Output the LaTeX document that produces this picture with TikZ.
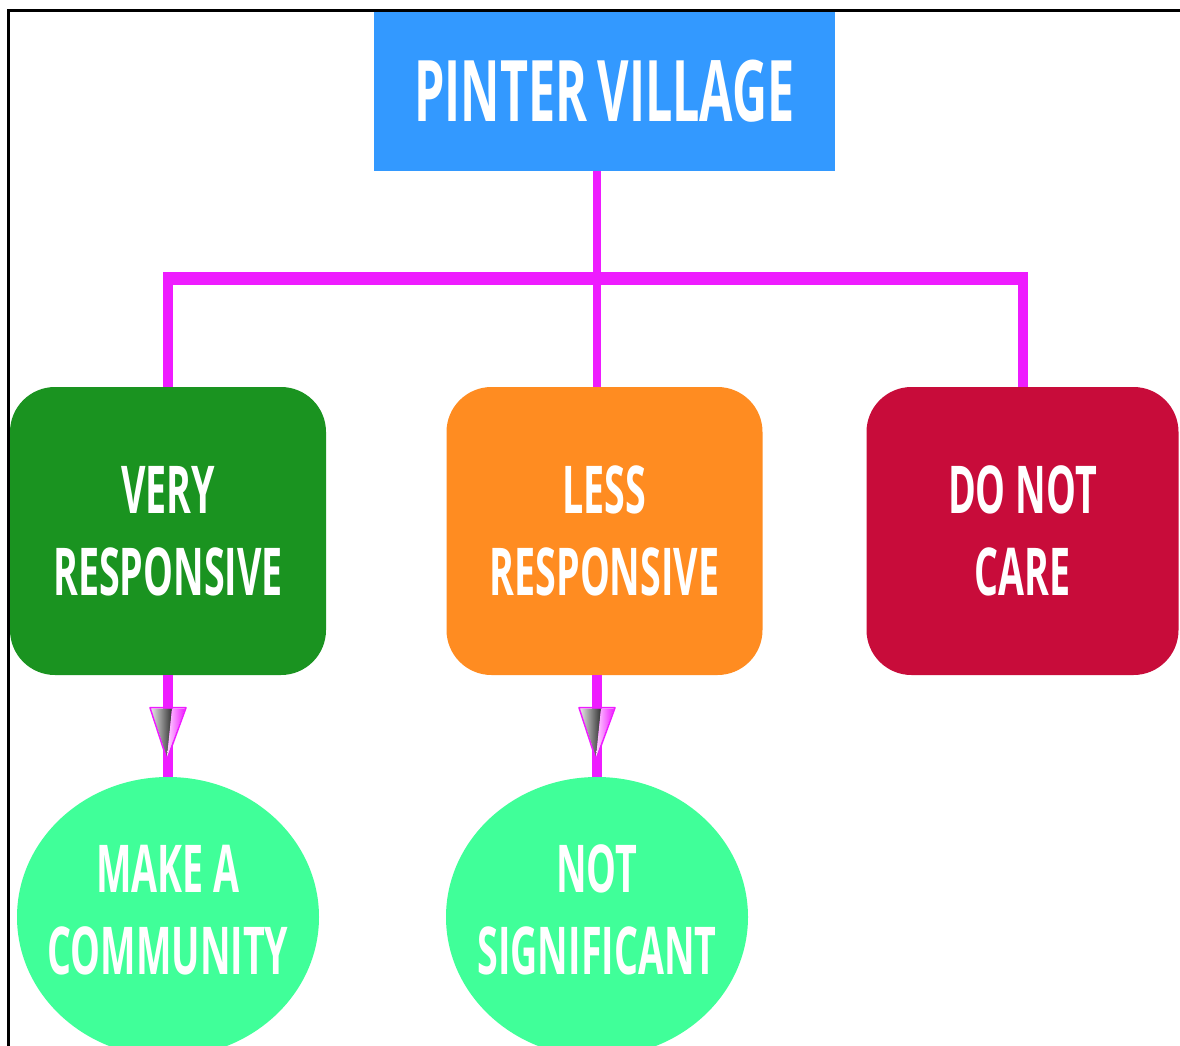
\documentclass[tikz,border=0pt]{standalone}
\usepackage{fontspec}
\newfontfamily\cfont[FakeStretch=0.57]{Open Sans}
\usetikzlibrary{shapes.geometric}
\definecolor{cblue}{HTML}{3399FF}
\definecolor{cmag}{HTML}{EE1CFF}
\definecolor{cgreen}{HTML}{1A9320}
\definecolor{corange}{HTML}{FF8C21}
\definecolor{cred}{HTML}{C80C3A}
\definecolor{cmint}{HTML}{40FF99}
\tikzset{
  txt/.style={text=white, font=\cfont\bfseries\fontsize{66}{82}\selectfont, align=center},
  titlebox/.style={rectangle, fill=cblue, minimum width=461, minimum height=159, inner sep=0,
    text=white, font=\cfont\bfseries\fontsize{85}{100}\selectfont},
  catbox/.style={rectangle, rounded corners=45, minimum width=316, minimum height=288, inner sep=0, txt},
  oval/.style={ellipse, minimum width=302, minimum height=280, inner sep=0},
  hbus/.style={draw=cmag, line width=13, line cap=rect},
  vbus/.style={draw=cmag, line width=10},
  stem/.style={draw=cmag, line width=10},
}
\newcommand{\conehead}[1]{%
  \begin{scope}[shift={(#1)}]
    \shade[left color=black!10, right color=black!80] (-17,1) -- (4,1) -- (-1,50) -- cycle;
    \shade[left color=magenta!15, right color=cmag] (4,1) -- (17,1) -- (-1,50) -- cycle;
    \draw[cmag, line width=1.5, line join=round] (-18,0) -- (18,0) -- (-1,52) -- cycle;
  \end{scope}}
\begin{document}
\begin{tikzpicture}[x=1pt, y=-1pt]
\useasboundingbox (0,0) rectangle (1180,1046);
\fill[white] (0,0) rectangle (1180,1046);
\draw[black, line width=2.5] (8.5,1046) -- (8.5,10.5) -- (1180,10.5);

\node[titlebox] (pv) at (604.5,91.5) {PINTER\kern10pt VILLAGE};
\node[catbox, fill=cgreen] (vr) at (168,531) {VERY\\RESPONSIVE};
\node[catbox, fill=corange] (ls) at (604.5,531) {LESS\\RESPONSIVE};
\node[catbox, fill=cred, minimum width=312] (dn) at (1022.5,531) {DO NOT\\CARE};
\node[oval, fill=cmint, label={[txt, yshift=7]center:MAKE A\\COMMUNITY}] (mc) at (168,917) {};
\node[oval, fill=cmint, label={[txt, yshift=7]center:NOT\\SIGNIFICANT}] (ns) at (597,917) {};

\coordinate (hub) at (597,278);
\draw[vbus] (vr.north) -- (vr.north |- hub);
\draw[vbus] (dn.north) -- (dn.north |- hub);
\draw[hbus] ([xshift=1.5]vr.north |- hub) -- ([xshift=-1.5]dn.north |- hub);
\draw[draw=cmag, line width=8] (pv.south -| ns.north) -- (ls.north -| ns.north);

\draw[stem] (vr.south) -- (mc.north);
\draw[stem] (ls.south -| ns.north) -- (ns.north);
\path (vr.south) -- (mc.north) coordinate[pos=0.32] (a1);
\path (ls.south -| ns.north) -- (ns.north) coordinate[pos=0.32] (a2);
\conehead{a1}
\conehead{a2}
\end{tikzpicture}
\end{document}
